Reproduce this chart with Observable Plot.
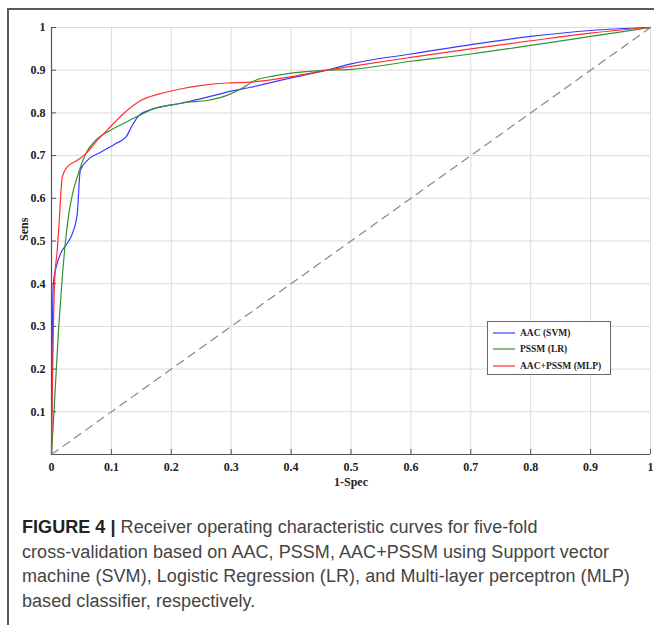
<!DOCTYPE html>
<html>
<head>
<meta charset="utf-8">
<script src="https://cdn.jsdelivr.net/npm/d3@7"></script>
<script src="https://cdn.jsdelivr.net/npm/@observablehq/plot@0.6"></script>
<style>
  html, body { margin: 0; padding: 0; background: #fff; width: 654px; height: 625px; overflow: hidden; }
  #frame { position: absolute; left: 7px; top: 8px; width: 700px; height: 700px;
           border-left: 2px solid #5a5a5a; border-top: 2px solid #5a5a5a; }
  #chart { position: absolute; left: 0; top: 0; }
  #chart svg { background: transparent !important; overflow: visible; }
  #legend { position: absolute; left: 487px; top: 321px; width: 122px; height: 52px;
            border: 1px solid #666; background: #fff;
            font-family: "Liberation Serif", serif; font-weight: bold; font-size: 9.5px; color: #222; }
  #legend .row { position: absolute; left: 0; height: 12px; display: flex; align-items: center; }
  #legend svg { margin-left: 5px; margin-right: 5px; }
  #caption { position: absolute; left: 22px; top: 515px; font-family: "Liberation Sans", Arial, sans-serif;
             font-size: 18px; line-height: 24.5px; color: #444; white-space: nowrap; letter-spacing: 0.05px; }
  #caption b { color: #222; }
</style>
</head>
<body>
<div id="frame"></div>
<div id="chart"></div>
<div id="legend"></div>
<div id="caption"><b>FIGURE 4 |</b> Receiver operating characteristic curves for five-fold<br>cross-validation based on AAC, PSSM, AAC+PSSM using Support vector<br>machine (SVM), Logistic Regression (LR), and Multi-layer perceptron (MLP)<br>based classifier, respectively.</div>
<script>
// ---- data ----
const seriesNames = ["AAC (SVM)", "PSSM (LR)", "AAC+PSSM (MLP)"];
const seriesColors = ["#3a3aff", "#2f932f", "#ff3030"];

const svmFpr = [0, 0.001, 0.003, 0.008, 0.015, 0.026, 0.035, 0.043, 0.048, 0.06, 0.082, 0.107, 0.124, 0.135, 0.146, 0.171, 0.215, 0.249, 0.304, 0.332, 0.4, 0.46, 0.5, 0.6, 0.7, 0.8, 0.9, 1];
const svmTpr = [0, 0.21, 0.4, 0.44, 0.47, 0.494, 0.518, 0.564, 0.665, 0.689, 0.708, 0.728, 0.743, 0.771, 0.794, 0.81, 0.822, 0.833, 0.852, 0.86, 0.882, 0.9, 0.915, 0.938, 0.96, 0.979, 0.993, 1];

const lrFpr = [0, 0.004, 0.012, 0.018, 0.023, 0.029, 0.035, 0.043, 0.057, 0.076, 0.098, 0.12, 0.146, 0.171, 0.193, 0.227, 0.26, 0.293, 0.316, 0.34, 0.37, 0.4, 0.46, 0.5, 0.6, 0.7, 0.8, 0.9, 1];
const lrTpr = [0, 0.096, 0.298, 0.415, 0.494, 0.564, 0.61, 0.65, 0.704, 0.739, 0.759, 0.775, 0.794, 0.81, 0.817, 0.825, 0.829, 0.841, 0.856, 0.876, 0.886, 0.893, 0.9, 0.902, 0.921, 0.938, 0.958, 0.979, 1];

const mlpFpr = [0, 0.002, 0.005, 0.0095, 0.012, 0.018, 0.026, 0.043, 0.057, 0.076, 0.098, 0.12, 0.149, 0.182, 0.215, 0.249, 0.293, 0.332, 0.4, 0.46, 0.5, 0.6, 0.7, 0.8, 0.9, 1];
const mlpTpr = [0, 0.2, 0.4, 0.478, 0.525, 0.65, 0.673, 0.689, 0.704, 0.735, 0.767, 0.798, 0.829, 0.845, 0.856, 0.864, 0.87, 0.872, 0.885, 0.9, 0.909, 0.93, 0.95, 0.969, 0.987, 1];

const chanceFpr = [0, 1];
const chanceTpr = [0, 1];

const xTicks = [0, 0.1, 0.2, 0.3, 0.4, 0.5, 0.6, 0.7, 0.8, 0.9, 1];
const xTickLabels = ["0", "0.1", "0.2", "0.3", "0.4", "0.5", "0.6", "0.7", "0.8", "0.9", "1"];
const yTicks = [0.1, 0.2, 0.3, 0.4, 0.5, 0.6, 0.7, 0.8, 0.9, 1];
const yTickLabels = ["0.1", "0.2", "0.3", "0.4", "0.5", "0.6", "0.7", "0.8", "0.9", "1"];
const xLabel = "1-Spec";
const yLabel = "Sens";

// ---- build ----
const toRows = (fx, ty, name) => fx.map((x, i) => ({x, y: ty[i], name}));
const curves = [
  toRows(svmFpr, svmTpr, seriesNames[0]),
  toRows(lrFpr, lrTpr, seriesNames[1]),
  toRows(mlpFpr, mlpTpr, seriesNames[2])
];
const chance = toRows(chanceFpr, chanceTpr, "chance");
const xFmt = d => xTickLabels[xTicks.indexOf(d)];
const yFmt = d => yTickLabels[yTicks.indexOf(d)];

const W = 654, H = 500, mL = 51, mR = 4, mT = 27, mB = 46;
const plotW = W - mL - mR, plotH = H - mT - mB;

const plot = Plot.plot({
  width: W, height: H,
  marginLeft: mL, marginRight: mR, marginTop: mT, marginBottom: mB,
  style: {fontFamily: "Liberation Serif, serif", fontSize: "12px", fontWeight: "bold", color: "#222", background: "transparent", overflow: "visible"},
  x: {domain: [0, 1]},
  y: {domain: [0, 1]},
  marks: [
    Plot.gridX(xTicks, {stroke: "#dcdcdc", strokeOpacity: 1}),
    Plot.gridY(yTicks, {stroke: "#dcdcdc", strokeOpacity: 1}),
    Plot.ruleX([0], {stroke: "#555", strokeWidth: 1.2}),
    Plot.ruleY([0], {stroke: "#555", strokeWidth: 1.2}),
    Plot.tickX(xTicks, {x: d => d, stroke: "#555", insetTop: plotH - 5}),
    Plot.tickY(yTicks, {y: d => d, stroke: "#555", insetRight: plotW - 5}),
    Plot.axisX(xTicks, {tickSize: 0, tickPadding: 8, tickFormat: xFmt, label: null}),
    Plot.axisY(yTicks, {tickSize: 0, tickPadding: 6, tickFormat: yFmt, label: null}),
    Plot.line(chance, {x: "x", y: "y", stroke: "#888", strokeWidth: 1.2, strokeDasharray: "8,6"}),
    ...curves.map((rows, i) => Plot.line(rows, {x: "x", y: "y", stroke: seriesColors[i], strokeWidth: 1.2, curve: "monotone-x"})),
    Plot.text([xLabel], {frameAnchor: "bottom", dy: 31, text: d => d, fontSize: 12}),
    Plot.text([yLabel], {frameAnchor: "left", dx: -27, rotate: -90, text: d => d, fontSize: 12})
  ]
});
document.getElementById("chart").appendChild(plot);

// legend
const legend = document.getElementById("legend");
const rowTops = [5, 21, 38];
seriesNames.forEach((name, i) => {
  const row = document.createElement("div");
  row.className = "row";
  row.style.top = rowTops[i] + "px";
  row.innerHTML = `<svg width="22" height="4"><line x1="0" y1="2" x2="22" y2="2" stroke="${seriesColors[i]}" stroke-width="1.2"/></svg><span>${name}</span>`;
  legend.appendChild(row);
});
</script>
</body>
</html>
